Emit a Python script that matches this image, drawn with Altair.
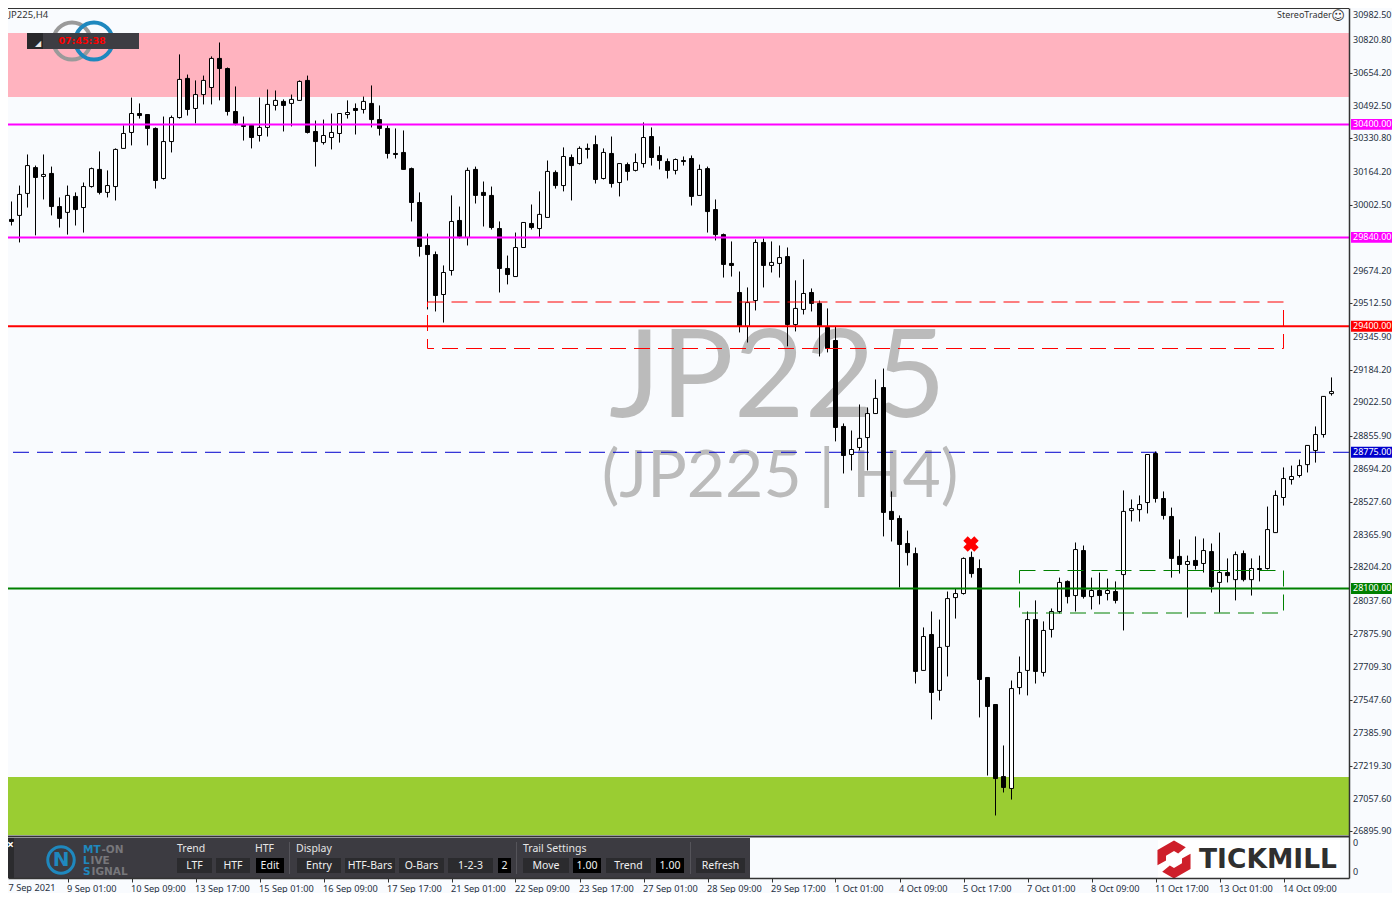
import altair as alt
import pandas as pd

opens = [29760,29929,29949,30058,30186,30142,30157,29993,29964,30043,
 29988,30092,30177,30063,30092,30281,30360,30454,30449,30380,
 30132,30315,30434,30628,30479,30548,30583,30727,30677,30464,
 30395,30395,30345,30385,30494,30514,30504,30519,30618,30365,
 30310,30335,30355,30449,30479,30474,30504,30424,30380,30256,
 30261,30181,30013,29800,29755,29557,29676,29924,29840,30177,
 30063,30048,29884,29686,29646,29790,29909,29884,29939,30162,
 30097,30236,30206,30281,30300,30132,30256,30112,30201,30172,
 30206,30340,30246,30216,30172,30221,30231,30048,30181,29978,
 29854,29711,29567,29399,29527,29815,29701,29711,29745,29408,
 29483,29567,29513,29394,29329,28903,28764,28799,28848,28967,
 29096,28482,28447,28323,28273,27694,27872,27595,27813,28055,
 28075,28254,28199,27659,27525,27168,27109,27609,27694,27946,
 27684,27897,27986,28135,28065,28288,28060,28090,28075,28085,
 28169,28486,28491,28526,28769,28546,28457,28259,28219,28239,
 28224,28283,28130,28179,28144,28273,28144,28199,28199,28377,
 28551,28640,28660,28714,28784,28863,29066]
closes = [29929,29919,30053,30196,30137,30152,29993,29934,30048,29978,
 30092,30181,30063,30097,30276,30355,30454,30444,30380,30122,
 30315,30434,30623,30474,30548,30618,30727,30677,30464,30405,
 30390,30335,30385,30499,30519,30494,30524,30613,30360,30315,
 30345,30360,30454,30459,30469,30514,30424,30380,30256,30251,
 30177,30013,29795,29755,29552,29666,29919,29845,30172,30048,
 30048,29889,29686,29656,29790,29914,29889,29954,30167,30097,
 30241,30196,30281,30276,30127,30261,30107,30206,30167,30211,
 30335,30236,30221,30172,30226,30216,30043,30177,29968,29854,
 29706,29701,29399,29517,29815,29701,29716,29740,29408,29488,
 29562,29513,29399,29290,28898,28759,28789,28844,28967,29042,
 28477,28442,28318,28278,27689,27862,27585,27808,28050,28075,
 28249,28174,27649,27515,27158,27114,27604,27684,27946,27689,
 27892,27986,28130,28060,28293,28060,28090,28065,28090,28041,
 28482,28496,28516,28764,28546,28462,28249,28219,28234,28214,
 28288,28110,28179,28164,28268,28144,28199,28194,28392,28561,
 28645,28655,28709,28809,28863,29052,29076]
highs = [29944,30018,30097,30251,30196,30251,30191,30038,30097,30063,
 30112,30186,30266,30172,30281,30395,30533,30504,30449,30385,
 30439,30444,30747,30647,30618,30642,30737,30806,30682,30588,
 30439,30400,30533,30573,30568,30524,30548,30618,30642,30419,
 30424,30454,30454,30519,30504,30538,30593,30494,30395,30380,
 30370,30186,30063,29859,29770,29701,30048,29993,30186,30191,
 30117,30092,29919,29750,29864,29914,30003,30068,30221,30172,
 30286,30251,30291,30305,30345,30281,30340,30206,30211,30256,
 30410,30385,30291,30231,30231,30241,30246,30201,30191,30028,
 29859,29820,29671,29592,29830,29835,29820,29800,29790,29627,
 29731,29587,29527,29488,29399,28918,28883,29012,28997,29136,
 29190,28581,28462,28387,28303,27907,27986,27946,28085,28100,
 28254,28283,28244,27659,27525,27322,27644,27763,27986,28041,
 27937,28001,28154,28140,28328,28313,28154,28179,28149,28135,
 28586,28541,28561,28764,28779,28581,28501,28343,28263,28358,
 28348,28323,28377,28249,28283,28288,28249,28263,28506,28586,
 28700,28709,28739,28809,28903,29052,29146]
lows = [29740,29899,29815,29988,29850,30028,29949,29889,29854,29899,
 29864,30087,30053,30038,30023,30281,30296,30429,30296,30082,
 30127,30261,30429,30444,30405,30499,30499,30519,30444,30395,
 30320,30281,30315,30340,30469,30365,30390,30519,30355,30191,
 30300,30276,30310,30429,30350,30454,30385,30345,30231,30231,
 30177,29919,29745,29483,29473,29418,29651,29835,29800,30008,
 29894,29879,29567,29607,29646,29790,29879,29840,29939,30082,
 30068,30023,30201,30231,30107,30127,30087,30043,30122,30167,
 30186,30196,30177,30132,30152,30196,29998,30048,29864,29825,
 29641,29646,29369,29319,29478,29592,29666,29641,29300,29374,
 29458,29473,29250,29270,28829,28670,28685,28784,28685,28967,
 28358,28333,28105,28214,27629,27694,27451,27545,27664,27951,
 28070,28154,27461,27173,26975,27089,27054,27575,27570,27629,
 27664,27857,27976,28026,27986,28050,27996,28021,28041,28026,
 27892,28432,28432,28472,28526,28442,28154,28174,27956,28194,
 28179,28080,27981,28130,28041,28135,28065,28135,28194,28377,
 28511,28615,28650,28675,28724,28848,29056]

price_ticks = [30820.80,30654.20,30492.50,30330.80,30164.20,30002.50,29674.20,29512.50,
 29345.90,29184.20,29022.50,28855.90,28694.20,28527.60,28365.90,28204.20,28037.60,
 27875.90,27709.30,27547.60,27385.90,27219.30,27057.60,26895.90]
date_ticks = [8*i for i in range(1, 21)]
date_labels = ['9 Sep 01:00','10 Sep 09:00','13 Sep 17:00','15 Sep 01:00','16 Sep 09:00',
 '17 Sep 17:00','21 Sep 01:00','22 Sep 09:00','23 Sep 17:00','27 Sep 01:00','28 Sep 09:00',
 '29 Sep 17:00','1 Oct 01:00','4 Oct 09:00','5 Oct 17:00','7 Oct 01:00','8 Oct 09:00',
 '11 Oct 17:00','13 Oct 01:00','14 Oct 09:00']
levels = [30400.0, 29840.0, 29400.0, 28775.0, 28100.0]
level_colors = ['#FF00FF', '#FF00FF', '#FF0000', '#0000CD', '#008000']

TXT = '#26303F'
BG = '#F9FBFE'
FONT = 'Noto Sans'

# page pixel -> data, used only for the decorative terminal overlay
def px(x):
    return (x - 3.5) / 8
def py(y):
    return 31014.1 - 4.956 * (y - 0.5)

xs = alt.Scale(domain=[px(8), px(1349)], nice=False, zero=False, padding=0)
ys = alt.Scale(domain=[py(878), py(8)], nice=False, zero=False, padding=0)

def X(f='x'):
    return alt.X(f, type='quantitative', scale=xs, title=None)
def Y(f='y'):
    return alt.Y(f, type='quantitative', scale=ys, title=None)
X2 = alt.X2('x2')
Y2 = alt.Y2('y2')

def box(x0, y0, x1, y1, fill):
    d = pd.DataFrame([dict(x=px(x0), x2=px(x1), y=py(y0), y2=py(y1))])
    return alt.Chart(d).mark_rect(color=fill, opacity=1).encode(x=X(), x2=X2, y=Y(), y2=Y2)

def txt(rows, **mark):
    mark.setdefault('font', FONT)
    mark.setdefault('fontSize', 10)
    mark.setdefault('align', 'left')
    mark.setdefault('baseline', 'middle')
    mark.setdefault('color', TXT)
    d = pd.DataFrame([dict(x=px(a), y=py(b), t=c) for a, b, c in rows])
    return alt.Chart(d).mark_text(**mark).encode(x=X(), y=Y(), text='t:N')

def hline(value, color, width, dash=None):
    d = pd.DataFrame({'y': [value]})
    kw = dict(color=color, strokeWidth=width)
    if dash:
        kw['strokeDash'] = dash
    return alt.Chart(d).mark_rule(**kw).encode(y=Y())

def ring(x, y, size, color, width):
    d = pd.DataFrame({'x': [px(x)], 'y': [py(y)]})
    return alt.Chart(d).mark_point(shape='circle', filled=False, size=size, stroke=color,
                                   strokeWidth=width, opacity=1).encode(x=X(), y=Y())

candles = pd.DataFrame({'k': range(len(opens)), 'o': opens, 'h': highs, 'l': lows, 'c': closes})

# axes live on an invisible carrier layer, which comes first so that its axes win the merge
axis_layer = alt.Chart(pd.DataFrame({'x': [px(8)], 'y': [py(8)]})).mark_point(opacity=0).encode(
    x=alt.X('x', type='quantitative', scale=xs, title=None, axis=alt.Axis(
        values=date_ticks, labelExpr="%s[datum.value/8-1]" % str(date_labels),
        labelAlign='left', labelFont=FONT, labelFontSize=9.2, labelColor=TXT, labelPadding=2,
        labelOverlap=False, labelFlush=False, labelBound=False, tickSize=4, tickColor='#333333', domainColor='#333333',
        domainWidth=1.5, grid=False, orient='bottom', labelOffset=-1, zindex=1)),
    y=alt.Y('y', type='quantitative', scale=ys, title=None, axis=alt.Axis(
        values=price_ticks, labels=False, orient='right', tickSize=3,
        tickColor='#333333', domainColor='#333333', domainWidth=1.5, grid=False, zindex=1)),
)
price_labels = alt.Chart(pd.DataFrame({
    'x': [px(1353)] * len(price_ticks), 'y': price_ticks,
    't': ['%.2f' % v for v in price_ticks]})).mark_text(
    font=FONT, fontSize=9, align='left', baseline='middle', color=TXT).encode(x=X(), y=Y(), text='t:N')

wicks = alt.Chart(candles).mark_rule(color='black', strokeWidth=1).encode(
    x=X('k'), y=Y('l'), y2=alt.Y2('h'))
bodies = alt.Chart(candles).mark_bar(size=4, stroke='black', strokeWidth=1).encode(
    x=X('k'), y=Y('o'), y2=alt.Y2('c'),
    color=alt.condition('datum.c > datum.o', alt.value('white'), alt.value('black')))

def dashed_box(k0, k1, p_top, p_bot, color):
    d = pd.DataFrame([dict(x=k0, x2=k1, y=p_top, y2=p_bot)])
    return alt.Chart(d).mark_rect(filled=False, stroke=color, strokeWidth=1,
                                  strokeDash=[16, 8], fillOpacity=0).encode(x=X(), x2=X2, y=Y(), y2=Y2)

x_mark = alt.Chart(pd.DataFrame({'x': [px(971)], 'y': [py(544)]})).mark_point(
    shape='cross', angle=45, filled=True, size=240, color='#FF0000', opacity=1).encode(x=X(), y=Y())

# right-hand price flags
flags = []
for v, c in zip(levels, level_colors):
    d = pd.DataFrame([dict(x=px(1351), x2=px(1392), y=v + 27, y2=v - 27)])
    flags.append(alt.Chart(d).mark_rect(color=c, opacity=1).encode(x=X(), x2=X2, y=Y(), y2=Y2))
    flags.append(alt.Chart(pd.DataFrame([dict(x=px(1353), y=v, t='%.2f' % v)])).mark_text(
        font=FONT, fontSize=9, align='left', baseline='middle', color='white').encode(x=X(), y=Y(), text='t:N'))

# bottom terminal panel
btn = '#2B2B2E'
buttons = [(177,212,'LTF',btn),(216,250,'HTF',btn),(256,284,'Edit','#000000'),
           (297,341,'Entry',btn),(345,395,'HTF-Bars',btn),(399,444,'O-Bars',btn),
           (448,493,'1-2-3',btn),(498,511,'2','#000000'),
           (523,569,'Move',btn),(573,601,'1.00','#000000'),(606,651,'Trend',btn),
           (656,684,'1.00','#000000'),(696,745,'Refresh',btn)]
panel = [box(8, 838, 750, 878, '#3C3B41'), box(8, 838, 14, 878, '#2B2B2E')]
for a, b, t, c in buttons:
    panel.append(box(a, 858, b, 873, c))
for a in (289, 516, 690):
    panel.append(box(a, 842, a + 1, 874, '#55545A'))
panel_text = txt([(177,849,'Trend'),(255,849,'HTF'),(296,849,'Display'),(523,849,'Trail Settings')],
                 color='#E6E6E6', fontSize=10.5)
btn_text = txt([((a + b) / 2, 865.5, t) for a, b, t, c in buttons], color='#F0F0F0', align='center', fontSize=10.5)
mt_grey = txt([(101.5,849.5,'-ON'),(90.5,860.5,'IVE'),(91.5,871.5,'IGNAL')], color='#77777B',
              font='DejaVu Sans', fontSize=10.5, fontWeight='bold')
mt_blue = txt([(83,849.5,'MT'),(83,860.5,'L'),(83,871.5,'S')], color='#1F88BE',
              font='DejaVu Sans', fontSize=10.5, fontWeight='bold')
mt_ring = ring(61, 860, 700, '#1F88BE', 3)
mt_n = txt([(61, 860, 'N')], color='#1F88BE', align='center', font='DejaVu Sans', fontSize=20, fontWeight='bold')

# Tickmill logo
hex_path = ('M -.87 .3 L -.87 -.5 L 0 -1 L .62 -.64 L .22 -.32 L 0 -.45 L -.42 -.2 L -.42 .05 Z '
            'M .87 -.3 L .87 .5 L 0 1 L -.62 .64 L -.22 .32 L 0 .45 L .42 .2 L .42 -.05 Z')
tick_logo = alt.Chart(pd.DataFrame({'x': [px(1174)], 'y': [py(859.5)]})).mark_point(
    shape=hex_path, filled=True, size=1444, color='#CE1F2A', opacity=1).encode(x=X(), y=Y())
tick_text = txt([(1199, 859.5, 'TICKMILL')], color='#2F2F2F', font='DejaVu Sans', fontSize=26.5, fontWeight='bold')

layers = [
    axis_layer,
    box(8, 33, 1349, 97, '#FFB3BF'),
    box(8, 777, 1349, 835, '#9ACD32'),
    txt([(777.5, 380, 'JP225')], font='Lato', fontSize=122, align='center', color='#BBBBBB'),
    txt([(780, 477, '(JP225 | H4)')], font='Lato', fontSize=66, align='center', color='#BBBBBB'),
    ring(72, 41, 1385, '#9A9A9A', 4),
    ring(94, 41, 1385, '#1F88BE', 4),
    box(27, 33, 139, 49, '#3E3D43'),
    box(27, 33, 43, 49, '#28282B'),
    txt([(38, 44, '◢')], font='DejaVu Sans', fontSize=8, color='#E8E8E8', align='center'),
    txt([(82, 41, '07:45:38')], font='DejaVu Sans', fontWeight='bold', fontSize=9.5, color='#FF0000', align='center'),
    hline(levels[3], level_colors[3], 1, [16, 8]),
    wicks, bodies,
    dashed_box(53, 160, py(302), py(348.5), '#FF0000'),
    dashed_box(127, 160, py(570.5), py(613), '#008000'),
    hline(levels[0], level_colors[0], 2),
    hline(levels[1], level_colors[1], 2),
    hline(levels[2], level_colors[2], 2),
    hline(levels[4], level_colors[4], 2),
    x_mark,
    hline(py(836.5), '#333333', 2),
    hline(py(8.5), '#333333', 1),
    price_labels,
    *flags,
    *panel, panel_text, btn_text, mt_ring, mt_n, mt_grey, mt_blue,
    txt([(10.5, 845, '×')], color='#FFFFFF', fontSize=12, fontWeight='bold', align='center'),
    box(1158, 840, 1340, 878, '#FFFFFF'),
    tick_logo, tick_text,
    txt([(8.5, 15, 'JP225,H4')], color='#333333', fontSize=9.5),
    txt([(1277, 15, 'StereoTrader')], color='#333333', fontSize=9),
    txt([(1338, 16, '☺')], color='#333333', font='DejaVu Sans', fontSize=13, align='center'),
    txt([(1353, 15, '30982.50'), (1353, 843, '0'), (1353, 872, '0')], color=TXT, fontSize=9),
    txt([(8.5, 888, '7 Sep 2021')], color=TXT, fontSize=9.2),
]

chart = alt.layer(*layers).properties(
    width=1341, height=870,
    autosize='none',
    padding={'left': 0, 'top': 0, 'right': 43, 'bottom': 15},
    background=BG,
).configure_view(stroke=None, fill=BG)

chart.save("out.html", embed_options={"renderer": "svg", "actions": False})
